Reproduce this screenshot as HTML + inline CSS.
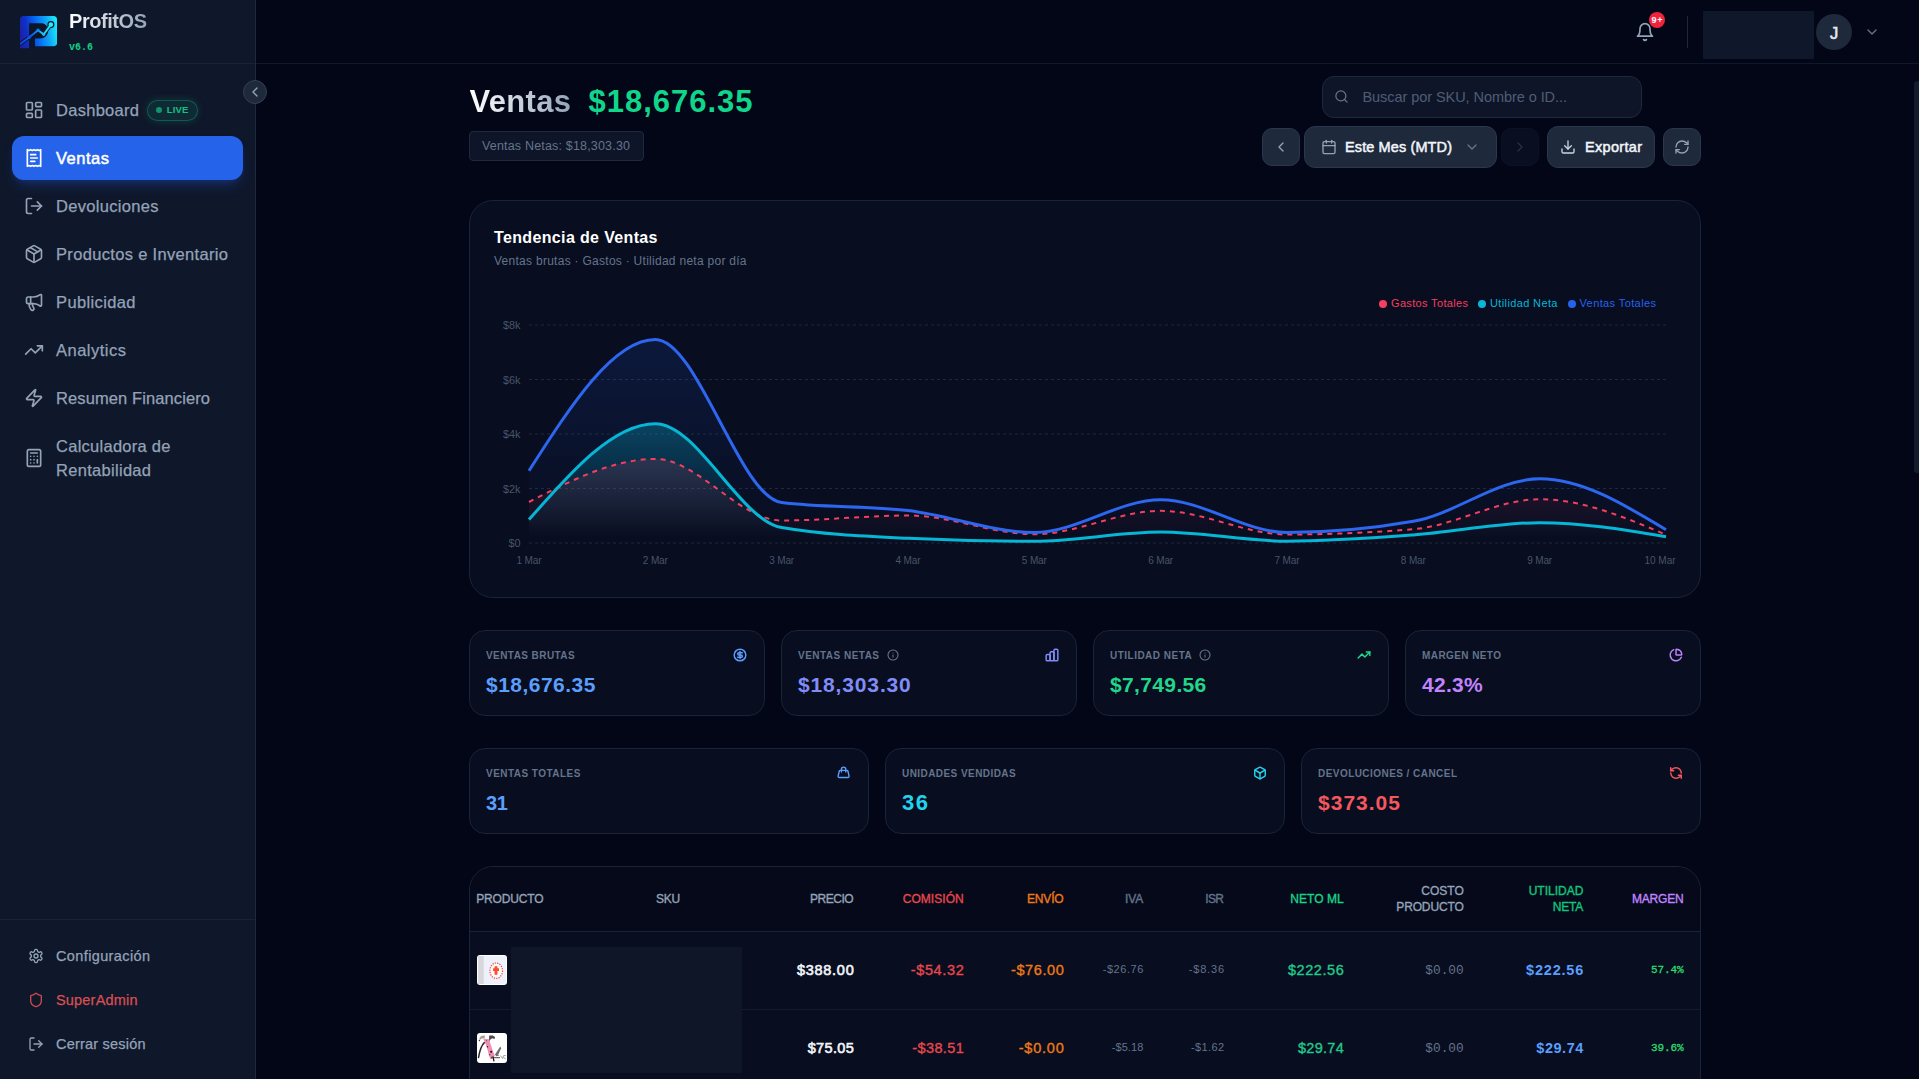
<!DOCTYPE html>
<html lang="es"><head><meta charset="utf-8"><title>ProfitOS · Ventas</title>
<style>
*{box-sizing:border-box;margin:0;padding:0}
html,body{width:1919px;height:1079px;overflow:hidden;background:#020617}
body{font-family:'Liberation Sans',sans-serif;-webkit-font-smoothing:antialiased}
#app{position:relative;width:1919px;height:1079px;overflow:hidden;background:#020617}
#app div,#app svg{position:absolute}
.t{white-space:nowrap}
.ic{overflow:visible}

</style></head>
<body>
<div id="app">
<aside aria-label="Navegación">
<div class="" style="left:0px;top:0px;width:256px;height:1079px;background:#0f172a;border-right:1px solid #1e293b"></div>
<div class="" style="left:0px;top:63px;width:255px;height:1px;background:#1e293b;opacity:.7"></div>
<div class="" style="left:0px;top:919px;width:255px;height:1px;background:#1e293b;opacity:.7"></div>
<svg class="ic" style="left:20px;top:15.700px" width="37.100" height="32.400" viewBox="0 0 37.100 32.400">
<defs><linearGradient id="lg" x1="0" y1="0.560" x2="1" y2="0.400"><stop offset="0" stop-color="#1c20a6"/><stop offset=".2" stop-color="#1030c6"/><stop offset=".45" stop-color="#0566f4"/><stop offset=".75" stop-color="#0ea6f6"/><stop offset="1" stop-color="#1ce8fb"/></linearGradient>
<linearGradient id="lg2" x1="0" y1="0" x2="1" y2="0"><stop offset="0" stop-color="#0a45ea"/><stop offset=".45" stop-color="#0668f8"/><stop offset=".7" stop-color="#10c2f8"/><stop offset="1" stop-color="#22f0ff"/></linearGradient>
<clipPath id="lc"><path d="M3.600 0H33.300a3.800 3.800 0 0 1 3.800 3.800V26.400a3.800 3.800 0 0 1-3.800 3.800H15V32.400H1.200A1.200 1.200 0 0 1 0 31.200V3.600A3.600 3.600 0 0 1 3.600 0Z"/></clipPath></defs>
<g clip-path="url(#lc)">
<rect width="37.100" height="32.400" fill="url(#lg)"/>
<path d="M9.050 33V7.300H20.500c4.600 0 7.600 2.700 7.600 7.300 0 4.800-3 7.800-7.600 7.800H14.970V33Z" fill="#0d1528"/>
<path d="M-1 28.800 9.300 21.200 18 14.300 23.700 18.400 30.900 8.600" fill="none" stroke="#0d1528" stroke-width="3.600" stroke-linejoin="round" stroke-linecap="round"/>
<circle cx="30.900" cy="8.600" r="3.500" fill="#0d1528"/>
<path d="M-1 28.800 9.300 21.200 18 14.300 23.700 18.400 30.900 8.600" fill="none" stroke="url(#lg2)" stroke-width="1.900" stroke-linejoin="round" stroke-linecap="round"/>
<circle cx="9.300" cy="21.200" r="1.700" fill="#0a52ee"/><circle cx="18" cy="14.300" r="1.700" fill="#0786f6"/><circle cx="23.700" cy="18.400" r="1.500" fill="#12c6f8"/>
<circle cx="30.900" cy="8.600" r="2.300" fill="#24eefe"/>
</g>
</svg>
<div class="t" style="top:7.00px;line-height:28px;height:28px;font:700 20px/28px 'Liberation Sans', sans-serif;color:#e5eaf2;letter-spacing:-0.446px;left:69px;background:linear-gradient(90deg,#ffffff,#94a3b8);-webkit-background-clip:text;background-clip:text;color:transparent;">ProfitOS</div>
<div class="t" style="top:41.20px;line-height:14px;height:14px;font:700 10px/14px 'Liberation Mono', monospace;color:#0fd183;letter-spacing:-0.005px;left:69px;">v6.6</div>
<div class="" style="left:243px;top:80px;width:24px;height:24px;background:#1e293b;border:1px solid #334155;border-radius:12px"></div>
<svg class="ic" style="left:246.5px;top:84.0px;" width="16" height="16" viewBox="0 0 24 24" fill="none" stroke="#94a3b8" stroke-width="2" stroke-linecap="round" stroke-linejoin="round"><path d="m15 18-6-6 6-6"/></svg>
<div class="" style="left:12px;top:136px;width:231px;height:44px;background:#2563eb;border-radius:12px;box-shadow:0 8px 14px -4px rgba(37,99,235,.32),0 3px 6px -2px rgba(30,64,175,.25)"></div>
<svg class="ic" style="left:24.0px;top:100.0px;" width="20" height="20" viewBox="0 0 24 24" fill="none" stroke="#94a3b8" stroke-width="2" stroke-linecap="round" stroke-linejoin="round"><rect width="7" height="9" x="3" y="3" rx="1"/><rect width="7" height="5" x="14" y="3" rx="1"/><rect width="7" height="9" x="14" y="12" rx="1"/><rect width="7" height="5" x="3" y="16" rx="1"/></svg>
<div class="t" style="top:98.50px;line-height:23px;height:23px;font:400 16.5px/23px 'Liberation Sans', sans-serif;color:#94a3b8;letter-spacing:0.283px;left:56px;-webkit-text-stroke:.25px currentColor;">Dashboard</div>
<svg class="ic" style="left:24.0px;top:148.0px;" width="20" height="20" viewBox="0 0 24 24" fill="none" stroke="#ffffff" stroke-width="2" stroke-linecap="round" stroke-linejoin="round"><path d="M4 2v20l2-1 2 1 2-1 2 1 2-1 2 1 2-1 2 1V2l-2 1-2-1-2 1-2-1-2 1-2-1-2 1Z"/><path d="M14 8H8"/><path d="M16 12H8"/><path d="M13 16H8"/></svg>
<div class="t" style="top:146.50px;line-height:23px;height:23px;font:400 16.5px/23px 'Liberation Sans', sans-serif;color:#ffffff;letter-spacing:0.506px;left:56px;-webkit-text-stroke:.5px currentColor;">Ventas</div>
<svg class="ic" style="left:24.0px;top:196.0px;" width="20" height="20" viewBox="0 0 24 24" fill="none" stroke="#94a3b8" stroke-width="2" stroke-linecap="round" stroke-linejoin="round"><path d="M9 21H5a2 2 0 0 1-2-2V5a2 2 0 0 1 2-2h4"/><polyline points="16 17 21 12 16 7"/><line x1="21" x2="9" y1="12" y2="12"/></svg>
<div class="t" style="top:194.50px;line-height:23px;height:23px;font:400 16.5px/23px 'Liberation Sans', sans-serif;color:#94a3b8;letter-spacing:0.312px;left:56px;-webkit-text-stroke:.25px currentColor;">Devoluciones</div>
<svg class="ic" style="left:24.0px;top:244.0px;" width="20" height="20" viewBox="0 0 24 24" fill="none" stroke="#94a3b8" stroke-width="2" stroke-linecap="round" stroke-linejoin="round"><path d="m7.5 4.27 9 5.15"/><path d="M21 8a2 2 0 0 0-1-1.73l-7-4a2 2 0 0 0-2 0l-7 4A2 2 0 0 0 3 8v8a2 2 0 0 0 1 1.73l7 4a2 2 0 0 0 2 0l7-4A2 2 0 0 0 21 16Z"/><path d="m3.3 7 8.7 5 8.7-5"/><path d="M12 22V12"/></svg>
<div class="t" style="top:242.50px;line-height:23px;height:23px;font:400 16.5px/23px 'Liberation Sans', sans-serif;color:#94a3b8;letter-spacing:0.328px;left:56px;-webkit-text-stroke:.25px currentColor;">Productos e Inventario</div>
<svg class="ic" style="left:24.0px;top:292.0px;" width="20" height="20" viewBox="0 0 24 24" fill="none" stroke="#94a3b8" stroke-width="2" stroke-linecap="round" stroke-linejoin="round"><path d="M11 6a13 13 0 0 0 8.400-2.800A1 1 0 0 1 21 4v12a1 1 0 0 1-1.600.800A13 13 0 0 0 11 14H5a2 2 0 0 1-2-2V8a2 2 0 0 1 2-2z"/><path d="M6 14a12 12 0 0 0 2.400 7.200 2 2 0 0 0 3.200-2.400A8 8 0 0 1 10 14"/><path d="M8 6v8"/></svg>
<div class="t" style="top:290.50px;line-height:23px;height:23px;font:400 16.5px/23px 'Liberation Sans', sans-serif;color:#94a3b8;letter-spacing:0.373px;left:56px;-webkit-text-stroke:.25px currentColor;">Publicidad</div>
<svg class="ic" style="left:24.0px;top:340.0px;" width="20" height="20" viewBox="0 0 24 24" fill="none" stroke="#94a3b8" stroke-width="2" stroke-linecap="round" stroke-linejoin="round"><polyline points="22 7 13.5 15.5 8.5 10.5 2 17"/><polyline points="16 7 22 7 22 13"/></svg>
<div class="t" style="top:338.50px;line-height:23px;height:23px;font:400 16.5px/23px 'Liberation Sans', sans-serif;color:#94a3b8;letter-spacing:0.496px;left:56px;-webkit-text-stroke:.25px currentColor;">Analytics</div>
<svg class="ic" style="left:24.0px;top:388.0px;" width="20" height="20" viewBox="0 0 24 24" fill="none" stroke="#94a3b8" stroke-width="2" stroke-linecap="round" stroke-linejoin="round"><path d="M4 14a1 1 0 0 1-.78-1.63l9.9-10.2a.5.5 0 0 1 .86.46l-1.92 6.02A1 1 0 0 0 13 10h7a1 1 0 0 1 .78 1.63l-9.9 10.2a.5.5 0 0 1-.86-.46l1.92-6.02A1 1 0 0 0 11 14z"/></svg>
<div class="t" style="top:386.50px;line-height:23px;height:23px;font:400 16.5px/23px 'Liberation Sans', sans-serif;color:#94a3b8;letter-spacing:0.103px;left:56px;-webkit-text-stroke:.25px currentColor;">Resumen Financiero</div>
<svg class="ic" style="left:24.0px;top:448.0px;" width="20" height="20" viewBox="0 0 24 24" fill="none" stroke="#94a3b8" stroke-width="2" stroke-linecap="round" stroke-linejoin="round"><rect width="16" height="20" x="4" y="2" rx="2"/><line x1="8" x2="16" y1="6" y2="6"/><line x1="16" x2="16" y1="14" y2="18"/><path d="M16 10h.01"/><path d="M12 10h.01"/><path d="M8 10h.01"/><path d="M12 14h.01"/><path d="M8 14h.01"/><path d="M12 18h.01"/><path d="M8 18h.01"/></svg>
<div class="t" style="top:434.50px;line-height:23px;height:23px;font:400 16.5px/23px 'Liberation Sans', sans-serif;color:#94a3b8;letter-spacing:0.269px;left:56px;-webkit-text-stroke:.25px currentColor;">Calculadora de</div>
<div class="t" style="top:458.50px;line-height:23px;height:23px;font:400 16.5px/23px 'Liberation Sans', sans-serif;color:#94a3b8;letter-spacing:0.297px;left:56px;-webkit-text-stroke:.25px currentColor;">Rentabilidad</div>
<div class="" style="left:147px;top:100px;width:51px;height:21px;background:rgba(16,185,129,.12);border:1px solid rgba(16,185,129,.35);border-radius:11px;box-shadow:0 0 8px rgba(16,185,129,.22)"></div>
<div class="" style="left:156px;top:107px;width:6px;height:6px;background:#10b981;border-radius:3px;opacity:.75"></div>
<div class="t" style="top:103.30px;line-height:13px;height:13px;font:700 9.5px/13px 'Liberation Sans', sans-serif;color:#10c283;letter-spacing:0.158px;left:166.7px;">LIVE</div>
<svg class="ic" style="left:28.0px;top:948.0px;" width="16" height="16" viewBox="0 0 24 24" fill="none" stroke="#94a3b8" stroke-width="2" stroke-linecap="round" stroke-linejoin="round"><path d="M12.22 2h-.44a2 2 0 0 0-2 2v.18a2 2 0 0 1-1 1.73l-.43.25a2 2 0 0 1-2 0l-.15-.08a2 2 0 0 0-2.73.73l-.22.38a2 2 0 0 0 .73 2.73l.15.1a2 2 0 0 1 1 1.72v.51a2 2 0 0 1-1 1.74l-.15.09a2 2 0 0 0-.73 2.73l.22.38a2 2 0 0 0 2.73.73l.15-.08a2 2 0 0 1 2 0l.43.25a2 2 0 0 1 1 1.73V20a2 2 0 0 0 2 2h.44a2 2 0 0 0 2-2v-.18a2 2 0 0 1 1-1.73l.43-.25a2 2 0 0 1 2 0l.15.08a2 2 0 0 0 2.73-.73l.22-.39a2 2 0 0 0-.73-2.73l-.15-.08a2 2 0 0 1-1-1.74v-.5a2 2 0 0 1 1-1.74l.15-.09a2 2 0 0 0 .73-2.73l-.22-.38a2 2 0 0 0-2.73-.73l-.15.08a2 2 0 0 1-2 0l-.43-.25a2 2 0 0 1-1-1.73V4a2 2 0 0 0-2-2z"/><circle cx="12" cy="12" r="3"/></svg>
<div class="t" style="top:946.00px;line-height:20px;height:20px;font:400 14.5px/20px 'Liberation Sans', sans-serif;color:#94a3b8;letter-spacing:0.376px;left:56px;-webkit-text-stroke:.25px currentColor;">Configuración</div>
<svg class="ic" style="left:28.0px;top:992.0px;" width="16" height="16" viewBox="0 0 24 24" fill="none" stroke="#cf4a4e" stroke-width="2" stroke-linecap="round" stroke-linejoin="round"><path d="M20 13c0 5-3.5 7.5-7.66 8.95a1 1 0 0 1-.67-.01C7.5 20.500 4 18 4 13V6a1 1 0 0 1 1-1c2 0 4.500-1.200 6.240-2.720a1.170 1.170 0 0 1 1.520 0C14.510 3.810 17 5 19 5a1 1 0 0 1 1 1z"/></svg>
<div class="t" style="top:990.00px;line-height:20px;height:20px;font:400 14.5px/20px 'Liberation Sans', sans-serif;color:#d84f54;letter-spacing:0.189px;left:56px;-webkit-text-stroke:.25px currentColor;">SuperAdmin</div>
<svg class="ic" style="left:28.0px;top:1036.0px;" width="16" height="16" viewBox="0 0 24 24" fill="none" stroke="#94a3b8" stroke-width="2" stroke-linecap="round" stroke-linejoin="round"><path d="M9 21H5a2 2 0 0 1-2-2V5a2 2 0 0 1 2-2h4"/><polyline points="16 17 21 12 16 7"/><line x1="21" x2="9" y1="12" y2="12"/></svg>
<div class="t" style="top:1034.00px;line-height:20px;height:20px;font:400 14.5px/20px 'Liberation Sans', sans-serif;color:#94a3b8;letter-spacing:0.206px;left:56px;-webkit-text-stroke:.25px currentColor;">Cerrar sesión</div>
</aside>
<header>
<div class="" style="left:256px;top:63px;width:1663px;height:1px;background:#1e293b;opacity:.55"></div>
<svg class="ic" style="left:1635.0px;top:22.0px;" width="20" height="20" viewBox="0 0 24 24" fill="none" stroke="#94a3b8" stroke-width="2" stroke-linecap="round" stroke-linejoin="round"><path d="M6 8a6 6 0 0 1 12 0c0 7 3 9 3 9H3s3-2 3-9"/><path d="M10.3 21a1.94 1.94 0 0 0 3.4 0"/></svg>
<div class="" style="left:1649px;top:12px;width:16px;height:16px;background:#ef233c;border-radius:8px"></div>
<div class="t" style="top:13.50px;line-height:13px;height:13px;font:700 9px/13px 'Liberation Sans', sans-serif;color:#ffffff;letter-spacing:0.734px;left:1651.50px;">9+</div>
<div class="" style="left:1687px;top:16px;width:1px;height:32px;background:#1e293b"></div>
<div class="" style="left:1703px;top:11px;width:111px;height:48px;background:#0f172a"></div>
<div class="" style="left:1816px;top:14px;width:36px;height:36px;background:#1e293b;border-radius:18px"></div>
<div class="t" style="top:21.80px;line-height:23px;height:23px;font:400 16.5px/23px 'Liberation Sans', sans-serif;color:#e2e8f0;left:1829.88px;-webkit-text-stroke:.6px currentColor;">J</div>
<svg class="ic" style="left:1864.0px;top:24.0px;" width="16" height="16" viewBox="0 0 24 24" fill="none" stroke="#64748b" stroke-width="2" stroke-linecap="round" stroke-linejoin="round"><path d="m6 9 6 6 6-6"/></svg>
<div class="" style="left:1914px;top:81px;width:6px;height:392px;background:#131b2e;border-radius:3px"></div>
</header>
<main>
<section aria-label="Encabezado">
<div class="t" style="top:79.80px;line-height:43px;height:43px;font:700 31px/43px 'Liberation Sans', sans-serif;color:#fff;letter-spacing:0.309px;left:469.5px;background:linear-gradient(90deg,#ffffff,#94a3b8);-webkit-background-clip:text;background-clip:text;color:transparent;">Ventas</div>
<div class="t" style="top:79.80px;line-height:43px;height:43px;font:700 31px/43px 'Liberation Sans', sans-serif;color:#10d68c;letter-spacing:0.983px;left:588.5px;">$18,676.35</div>
<div class="" style="left:469px;top:131px;width:175px;height:30px;background:#0e1528;border:1px solid #1e293b;border-radius:4px"></div>
<div class="t" style="top:137.00px;line-height:18px;height:18px;font:400 12.5px/18px 'Liberation Sans', sans-serif;color:#64748b;letter-spacing:0.179px;left:482px;">Ventas Netas: $18,303.30</div>
<div class="" style="left:1322px;top:76px;width:320px;height:42px;background:#0e1528;border:1px solid #1e293b;border-radius:12px"></div>
<svg class="ic" style="left:1334.0px;top:89.0px;" width="15" height="15" viewBox="0 0 24 24" fill="none" stroke="#64748b" stroke-width="2" stroke-linecap="round" stroke-linejoin="round"><circle cx="11" cy="11" r="8"/><path d="m21 21-4.3-4.3"/></svg>
<div class="t" style="top:87.00px;line-height:20px;height:20px;font:400 14.5px/20px 'Liberation Sans', sans-serif;color:#4e5d76;letter-spacing:-0.062px;left:1362.5px;">Buscar por SKU, Nombre o ID...</div>
<div class="" style="left:1262px;top:128px;width:38px;height:38px;background:#1e293b;border:1px solid #2a374d;border-radius:10px"></div>
<svg class="ic" style="left:1273.0px;top:139.0px;" width="16" height="16" viewBox="0 0 24 24" fill="none" stroke="#94a3b8" stroke-width="2" stroke-linecap="round" stroke-linejoin="round"><path d="m15 18-6-6 6-6"/></svg>
<div class="" style="left:1304px;top:126px;width:193px;height:42px;background:#1e293b;border:1px solid #2a374d;border-radius:11px"></div>
<svg class="ic" style="left:1321.0px;top:139.0px;" width="16" height="16" viewBox="0 0 24 24" fill="none" stroke="#94a3b8" stroke-width="2" stroke-linecap="round" stroke-linejoin="round"><path d="M8 2v4"/><path d="M16 2v4"/><rect width="18" height="18" x="3" y="4" rx="2"/><path d="M3 10h18"/></svg>
<div class="t" style="top:137.00px;line-height:20px;height:20px;font:400 14.5px/20px 'Liberation Sans', sans-serif;color:#f1f5f9;letter-spacing:0.113px;left:1345px;-webkit-text-stroke:.5px currentColor;">Este Mes (MTD)</div>
<svg class="ic" style="left:1464.0px;top:139.0px;" width="16" height="16" viewBox="0 0 24 24" fill="none" stroke="#64748b" stroke-width="2" stroke-linecap="round" stroke-linejoin="round"><path d="m6 9 6 6 6-6"/></svg>
<div class="" style="left:1501px;top:128px;width:38px;height:38px;background:#1e293b;border:1px solid #2a374d;border-radius:10px;opacity:.26"></div>
<svg class="ic" style="left:1512.0px;top:139.0px;opacity:.22" width="16" height="16" viewBox="0 0 24 24" fill="none" stroke="#94a3b8" stroke-width="2" stroke-linecap="round" stroke-linejoin="round"><path d="m9 18 6-6-6-6"/></svg>
<div class="" style="left:1547px;top:126px;width:108px;height:42px;background:#1e293b;border:1px solid #2a374d;border-radius:11px"></div>
<svg class="ic" style="left:1560.0px;top:139.0px;" width="16" height="16" viewBox="0 0 24 24" fill="none" stroke="#cbd5e1" stroke-width="2" stroke-linecap="round" stroke-linejoin="round"><path d="M21 15v4a2 2 0 0 1-2 2H5a2 2 0 0 1-2-2v-4"/><polyline points="7 10 12 15 17 10"/><line x1="12" x2="12" y1="15" y2="3"/></svg>
<div class="t" style="top:137.00px;line-height:20px;height:20px;font:400 14.5px/20px 'Liberation Sans', sans-serif;color:#f1f5f9;letter-spacing:0.312px;left:1585px;-webkit-text-stroke:.5px currentColor;">Exportar</div>
<div class="" style="left:1663px;top:128px;width:38px;height:38px;background:#1e293b;border:1px solid #2a374d;border-radius:10px"></div>
<svg class="ic" style="left:1674.0px;top:139.0px;" width="16" height="16" viewBox="0 0 24 24" fill="none" stroke="#94a3b8" stroke-width="2" stroke-linecap="round" stroke-linejoin="round"><path d="M3 12a9 9 0 0 1 9-9 9.750 9.750 0 0 1 6.740 2.740L21 8"/><path d="M21 3v5h-5"/><path d="M21 12a9 9 0 0 1-9 9 9.750 9.750 0 0 1-6.740-2.740L3 16"/><path d="M8 16H3v5"/></svg>
</section>
<section aria-label="Tendencia de Ventas">
<div class="" style="left:469px;top:200px;width:1232px;height:398px;background:#080d20;border:1px solid #1a2338;border-radius:24px"></div>
<div class="t" style="top:227.00px;line-height:22px;height:22px;font:700 16px/22px 'Liberation Sans', sans-serif;color:#ffffff;letter-spacing:0.356px;left:494px;">Tendencia de Ventas</div>
<div class="t" style="top:252.50px;line-height:17px;height:17px;font:400 12px/17px 'Liberation Sans', sans-serif;color:#64748b;letter-spacing:0.275px;left:494px;">Ventas brutas · Gastos · Utilidad neta por día</div>
<svg class="ic" style="left:0;top:0" width="1919" height="620" viewBox="0 0 1919 620"><defs>
<linearGradient id="gB" x1="0" y1="0" x2="0" y2="1"><stop offset="0.05" stop-color="#2563eb" stop-opacity=".13"/><stop offset=".95" stop-color="#2563eb" stop-opacity="0"/></linearGradient>
<linearGradient id="gC" x1="0" y1="0" x2="0" y2="1"><stop offset="0.05" stop-color="#06b6d4" stop-opacity=".28"/><stop offset=".95" stop-color="#06b6d4" stop-opacity="0"/></linearGradient>
<linearGradient id="gR" x1="0" y1="0" x2="0" y2="1"><stop offset="0.05" stop-color="#f43f5e" stop-opacity=".14"/><stop offset=".95" stop-color="#f43f5e" stop-opacity="0"/></linearGradient>
</defs><line x1="529.0" x2="1666.0" y1="543.0" y2="543.0" stroke="#1e293b" stroke-width="1" stroke-dasharray="3 3"/><line x1="529.0" x2="1666.0" y1="488.5" y2="488.5" stroke="#1e293b" stroke-width="1" stroke-dasharray="3 3"/><line x1="529.0" x2="1666.0" y1="434.0" y2="434.0" stroke="#1e293b" stroke-width="1" stroke-dasharray="3 3"/><line x1="529.0" x2="1666.0" y1="379.5" y2="379.5" stroke="#1e293b" stroke-width="1" stroke-dasharray="3 3"/><line x1="529.0" x2="1666.0" y1="325.0" y2="325.0" stroke="#1e293b" stroke-width="1" stroke-dasharray="3 3"/><path d="M529.00,470.70C571.11,405.05,613.22,339.40,655.33,339.40C697.44,339.40,739.56,497.17,781.67,502.50C823.78,507.83,865.89,505.50,908.00,510.50C950.11,515.50,992.22,532.50,1034.33,532.50C1076.44,532.50,1118.56,499.70,1160.67,499.70C1202.78,499.70,1244.89,532.50,1287.00,532.50C1329.11,532.50,1371.22,528.77,1413.33,521.30C1455.44,513.83,1497.56,478.80,1539.67,478.80C1581.78,478.80,1623.89,504.25,1666.00,529.70L1666.00,543.0L529.00,543.0Z" fill="url(#gB)"/><path d="M529.00,519.60C571.11,471.65,613.22,423.70,655.33,423.70C697.44,423.70,739.56,520.30,781.67,527.50C823.78,534.70,865.89,536.30,908.00,538.30C950.11,540.30,992.22,541.30,1034.33,541.30C1076.44,541.30,1118.56,532.00,1160.67,532.00C1202.78,532.00,1244.89,541.20,1287.00,541.20C1329.11,541.20,1371.22,538.08,1413.33,535.00C1455.44,531.92,1497.56,522.70,1539.67,522.70C1581.78,522.70,1623.89,529.70,1666.00,536.70L1666.00,543.0L529.00,543.0Z" fill="url(#gC)"/><path d="M529.00,502.00C571.11,480.45,613.22,458.90,655.33,458.90C697.44,458.90,739.56,520.50,781.67,520.50C823.78,520.50,865.89,515.50,908.00,515.50C950.11,515.50,992.22,534.20,1034.33,534.20C1076.44,534.20,1118.56,510.80,1160.67,510.80C1202.78,510.80,1244.89,534.50,1287.00,534.50C1329.11,534.50,1371.22,532.73,1413.33,529.20C1455.44,525.67,1497.56,499.20,1539.67,499.20C1581.78,499.20,1623.89,516.95,1666.00,534.70L1666.00,543.0L529.00,543.0Z" fill="url(#gR)"/><path d="M529.00,502.00C571.11,480.45,613.22,458.90,655.33,458.90C697.44,458.90,739.56,520.50,781.67,520.50C823.78,520.50,865.89,515.50,908.00,515.50C950.11,515.50,992.22,534.20,1034.33,534.20C1076.44,534.20,1118.56,510.80,1160.67,510.80C1202.78,510.80,1244.89,534.50,1287.00,534.50C1329.11,534.50,1371.22,532.73,1413.33,529.20C1455.44,525.67,1497.56,499.20,1539.67,499.20C1581.78,499.20,1623.89,516.95,1666.00,534.70" fill="none" stroke="#f43f5e" stroke-width="2" stroke-dasharray="5 5"/><path d="M529.00,519.60C571.11,471.65,613.22,423.70,655.33,423.70C697.44,423.70,739.56,520.30,781.67,527.50C823.78,534.70,865.89,536.30,908.00,538.30C950.11,540.30,992.22,541.30,1034.33,541.30C1076.44,541.30,1118.56,532.00,1160.67,532.00C1202.78,532.00,1244.89,541.20,1287.00,541.20C1329.11,541.20,1371.22,538.08,1413.33,535.00C1455.44,531.92,1497.56,522.70,1539.67,522.70C1581.78,522.70,1623.89,529.70,1666.00,536.70" fill="none" stroke="#06b6d4" stroke-width="3"/><path d="M529.00,470.70C571.11,405.05,613.22,339.40,655.33,339.40C697.44,339.40,739.56,497.17,781.67,502.50C823.78,507.83,865.89,505.50,908.00,510.50C950.11,515.50,992.22,532.50,1034.33,532.50C1076.44,532.50,1118.56,499.70,1160.67,499.70C1202.78,499.70,1244.89,532.50,1287.00,532.50C1329.11,532.50,1371.22,528.77,1413.33,521.30C1455.44,513.83,1497.56,478.80,1539.67,478.80C1581.78,478.80,1623.89,504.25,1666.00,529.70" fill="none" stroke="#2d66ef" stroke-width="3"/></svg>
<div class="t" style="top:536.30px;line-height:15px;height:15px;font:400 10.8px/15px 'Liberation Sans', sans-serif;color:#475569;right:1398.50px;text-align:right;">$0</div>
<div class="t" style="top:481.80px;line-height:15px;height:15px;font:400 10.8px/15px 'Liberation Sans', sans-serif;color:#475569;right:1398.50px;text-align:right;">$2k</div>
<div class="t" style="top:427.30px;line-height:15px;height:15px;font:400 10.8px/15px 'Liberation Sans', sans-serif;color:#475569;right:1398.50px;text-align:right;">$4k</div>
<div class="t" style="top:372.80px;line-height:15px;height:15px;font:400 10.8px/15px 'Liberation Sans', sans-serif;color:#475569;right:1398.50px;text-align:right;">$6k</div>
<div class="t" style="top:318.30px;line-height:15px;height:15px;font:400 10.8px/15px 'Liberation Sans', sans-serif;color:#475569;right:1398.50px;text-align:right;">$8k</div>
<div class="t" style="top:553.50px;line-height:14px;height:14px;font:400 10px/14px 'Liberation Sans', sans-serif;color:#475569;letter-spacing:-0.141px;left:516.50px;">1 Mar</div>
<div class="t" style="top:553.50px;line-height:14px;height:14px;font:400 10px/14px 'Liberation Sans', sans-serif;color:#475569;letter-spacing:-0.141px;left:642.83px;">2 Mar</div>
<div class="t" style="top:553.50px;line-height:14px;height:14px;font:400 10px/14px 'Liberation Sans', sans-serif;color:#475569;letter-spacing:-0.141px;left:769.17px;">3 Mar</div>
<div class="t" style="top:553.50px;line-height:14px;height:14px;font:400 10px/14px 'Liberation Sans', sans-serif;color:#475569;letter-spacing:-0.141px;left:895.50px;">4 Mar</div>
<div class="t" style="top:553.50px;line-height:14px;height:14px;font:400 10px/14px 'Liberation Sans', sans-serif;color:#475569;letter-spacing:-0.141px;left:1021.83px;">5 Mar</div>
<div class="t" style="top:553.50px;line-height:14px;height:14px;font:400 10px/14px 'Liberation Sans', sans-serif;color:#475569;letter-spacing:-0.141px;left:1148.17px;">6 Mar</div>
<div class="t" style="top:553.50px;line-height:14px;height:14px;font:400 10px/14px 'Liberation Sans', sans-serif;color:#475569;letter-spacing:-0.141px;left:1274.50px;">7 Mar</div>
<div class="t" style="top:553.50px;line-height:14px;height:14px;font:400 10px/14px 'Liberation Sans', sans-serif;color:#475569;letter-spacing:-0.141px;left:1400.83px;">8 Mar</div>
<div class="t" style="top:553.50px;line-height:14px;height:14px;font:400 10px/14px 'Liberation Sans', sans-serif;color:#475569;letter-spacing:-0.141px;left:1527.17px;">9 Mar</div>
<div class="t" style="top:553.50px;line-height:14px;height:14px;font:400 10px/14px 'Liberation Sans', sans-serif;color:#475569;letter-spacing:-0.025px;right:243.53px;text-align:right;">10 Mar</div>
<div class="" style="left:1379px;top:300px;width:8px;height:8px;background:#f43f5e;border-radius:4px"></div>
<div class="t" style="top:296.00px;line-height:15px;height:15px;font:400 11px/15px 'Liberation Sans', sans-serif;color:#f43f5e;letter-spacing:0.341px;left:1391px;">Gastos Totales</div>
<div class="" style="left:1478px;top:300px;width:8px;height:8px;background:#06b6d4;border-radius:4px"></div>
<div class="t" style="top:296.00px;line-height:15px;height:15px;font:400 11px/15px 'Liberation Sans', sans-serif;color:#06b6d4;letter-spacing:0.376px;left:1490px;">Utilidad Neta</div>
<div class="" style="left:1567.5px;top:300px;width:8px;height:8px;background:#2563eb;border-radius:4px"></div>
<div class="t" style="top:296.00px;line-height:15px;height:15px;font:400 11px/15px 'Liberation Sans', sans-serif;color:#2563eb;letter-spacing:0.395px;left:1579.5px;">Ventas Totales</div>
</section>
<section aria-label="Indicadores">
<div class="" style="left:468.5px;top:630px;width:296px;height:86px;background:#080d20;border:1px solid #1a2338;border-radius:16px"></div>
<div class="t" style="top:649.30px;line-height:14px;height:14px;font:700 10px/14px 'Liberation Sans', sans-serif;color:#64748b;letter-spacing:0.431px;left:486.0px;">VENTAS BRUTAS</div>
<div class="t" style="top:669.90px;line-height:29px;height:29px;font:700 21px/29px 'Liberation Sans', sans-serif;color:#5b9efc;letter-spacing:0.477px;left:486.0px;">$18,676.35</div>
<svg class="ic" style="left:733.0px;top:648.0px;" width="14" height="14" viewBox="0 0 24 24" fill="none" stroke="#5b9efc" stroke-width="2.5" stroke-linecap="round" stroke-linejoin="round"><circle cx="12" cy="12" r="10"/><path d="M16 8h-6a2 2 0 1 0 0 4h4a2 2 0 1 1 0 4H8"/><path d="M12 18V6"/></svg>
<div class="" style="left:780.5px;top:630px;width:296px;height:86px;background:#080d20;border:1px solid #1a2338;border-radius:16px"></div>
<div class="t" style="top:649.30px;line-height:14px;height:14px;font:700 10px/14px 'Liberation Sans', sans-serif;color:#64748b;letter-spacing:0.477px;left:798.0px;">VENTAS NETAS</div>
<div class="t" style="top:669.90px;line-height:29px;height:29px;font:700 21px/29px 'Liberation Sans', sans-serif;color:#818cf8;letter-spacing:0.855px;left:798.0px;">$18,303.30</div>
<svg class="ic" style="left:1045.0px;top:648.0px;" width="14" height="14" viewBox="0 0 24 24" fill="none" stroke="#818cf8" stroke-width="2.5" stroke-linecap="round" stroke-linejoin="round"><rect x="2" y="11" width="6.670" height="11" rx="2"/><rect x="8.670" y="6.500" width="6.670" height="15.500" rx="2"/><rect x="15.330" y="2" width="6.670" height="20" rx="2"/></svg>
<svg class="ic" style="left:887.0px;top:649.0px;" width="12" height="12" viewBox="0 0 24 24" fill="none" stroke="#64748b" stroke-width="2.2" stroke-linecap="round" stroke-linejoin="round"><circle cx="12" cy="12" r="10"/><path d="M12 16v-4"/><path d="M12 8h.01"/></svg>
<div class="" style="left:1092.5px;top:630px;width:296px;height:86px;background:#080d20;border:1px solid #1a2338;border-radius:16px"></div>
<div class="t" style="top:649.30px;line-height:14px;height:14px;font:700 10px/14px 'Liberation Sans', sans-serif;color:#64748b;letter-spacing:0.482px;left:1110.0px;">UTILIDAD NETA</div>
<div class="t" style="top:669.90px;line-height:29px;height:29px;font:700 21px/29px 'Liberation Sans', sans-serif;color:#22d68c;letter-spacing:0.358px;left:1110.0px;">$7,749.56</div>
<svg class="ic" style="left:1357.0px;top:648.0px;" width="14" height="14" viewBox="0 0 24 24" fill="none" stroke="#22d68c" stroke-width="2.5" stroke-linecap="round" stroke-linejoin="round"><polyline points="22 7 13.5 15.5 8.5 10.5 2 17"/><polyline points="16 7 22 7 22 13"/></svg>
<svg class="ic" style="left:1199.0px;top:649.0px;" width="12" height="12" viewBox="0 0 24 24" fill="none" stroke="#64748b" stroke-width="2.2" stroke-linecap="round" stroke-linejoin="round"><circle cx="12" cy="12" r="10"/><path d="M12 16v-4"/><path d="M12 8h.01"/></svg>
<div class="" style="left:1404.5px;top:630px;width:296px;height:86px;background:#080d20;border:1px solid #1a2338;border-radius:16px"></div>
<div class="t" style="top:649.30px;line-height:14px;height:14px;font:700 10px/14px 'Liberation Sans', sans-serif;color:#64748b;letter-spacing:0.417px;left:1422.0px;">MARGEN NETO</div>
<div class="t" style="top:669.90px;line-height:29px;height:29px;font:700 21px/29px 'Liberation Sans', sans-serif;color:#c084fc;letter-spacing:0.288px;left:1422.0px;">42.3%</div>
<svg class="ic" style="left:1669.0px;top:648.0px;" width="14" height="14" viewBox="0 0 24 24" fill="none" stroke="#c084fc" stroke-width="2.5" stroke-linecap="round" stroke-linejoin="round"><path d="M21 12c.552 0 1.005-.449.950-.998a10 10 0 0 0-8.953-8.951c-.550-.055-.998.398-.998.950v8a1 1 0 0 0 1 1z"/><path d="M21.210 15.890A10 10 0 1 1 8 2.830"/></svg>
<div class="" style="left:468.5px;top:748px;width:400px;height:86px;background:#080d20;border:1px solid #1a2338;border-radius:16px"></div>
<div class="t" style="top:767.30px;line-height:14px;height:14px;font:700 10px/14px 'Liberation Sans', sans-serif;color:#64748b;letter-spacing:0.466px;left:486.0px;">VENTAS TOTALES</div>
<div class="t" style="top:788.70px;line-height:28px;height:28px;font:700 20px/28px 'Liberation Sans', sans-serif;color:#5b9efc;letter-spacing:-0.250px;left:486.0px;">31</div>
<svg class="ic" style="left:837.4px;top:766.4px;" width="13.2" height="13.2" viewBox="0 0 24 24" fill="none" stroke="#5b9efc" stroke-width="2.5" stroke-linecap="round" stroke-linejoin="round"><path d="M2.048 18.566A2 2 0 0 0 4 21h16a2 2 0 0 0 1.952-2.434l-2-9A2 2 0 0 0 18 8H6a2 2 0 0 0-1.952 1.566z"/><path d="M8 11V6a4 4 0 0 1 8 0v5"/></svg>
<div class="" style="left:884.5px;top:748px;width:400px;height:86px;background:#080d20;border:1px solid #1a2338;border-radius:16px"></div>
<div class="t" style="top:767.30px;line-height:14px;height:14px;font:700 10px/14px 'Liberation Sans', sans-serif;color:#64748b;letter-spacing:0.438px;left:902.0px;">UNIDADES VENDIDAS</div>
<div class="t" style="top:787.20px;line-height:31px;height:31px;font:700 22px/31px 'Liberation Sans', sans-serif;color:#22d3ee;letter-spacing:1.516px;left:902.0px;">36</div>
<svg class="ic" style="left:1253.0px;top:766.0px;" width="14" height="14" viewBox="0 0 24 24" fill="none" stroke="#22d3ee" stroke-width="2.5" stroke-linecap="round" stroke-linejoin="round"><path d="M21 8a2 2 0 0 0-1-1.730l-7-4a2 2 0 0 0-2 0l-7 4A2 2 0 0 0 3 8v8a2 2 0 0 0 1 1.730l7 4a2 2 0 0 0 2 0l7-4A2 2 0 0 0 21 16Z"/><path d="m3.300 7 8.700 5 8.700-5"/><path d="M12 22V12"/></svg>
<div class="" style="left:1300.5px;top:748px;width:400px;height:86px;background:#080d20;border:1px solid #1a2338;border-radius:16px"></div>
<div class="t" style="top:767.30px;line-height:14px;height:14px;font:700 10px/14px 'Liberation Sans', sans-serif;color:#64748b;letter-spacing:0.449px;left:1318.0px;">DEVOLUCIONES / CANCEL</div>
<div class="t" style="top:788.20px;line-height:29px;height:29px;font:700 21px/29px 'Liberation Sans', sans-serif;color:#f4585c;letter-spacing:1.013px;left:1318.0px;">$373.05</div>
<svg class="ic" style="left:1669.0px;top:766.0px;" width="14" height="14" viewBox="0 0 24 24" fill="none" stroke="#f4585c" stroke-width="2.5" stroke-linecap="round" stroke-linejoin="round"><path d="M21 12a9 9 0 0 0-9-9 9.750 9.750 0 0 0-6.740 2.740L3 8"/><path d="M3 3v5h5"/><path d="M3 12a9 9 0 0 0 9 9 9.750 9.750 0 0 0 6.740-2.740L21 16"/><path d="M16 16h5v5"/></svg>
</section>
<section aria-label="Tabla de ventas">
<div class="" style="left:468.5px;top:866px;width:1232px;height:260px;background:#080d20;border:1px solid #1a2338;border-radius:24px;overflow:hidden"><div style="left:0;top:0;width:1232px;height:65px;background:#050919;border-bottom:1px solid #1a2338"></div><div style="left:0;top:142px;width:1232px;height:1px;background:#131b2e"></div></div>
<div class="t" style="top:890.90px;line-height:17px;height:17px;font:400 12px/17px 'Liberation Sans', sans-serif;color:#94a3b8;letter-spacing:-0.179px;left:476.3px;-webkit-text-stroke:.35px currentColor;">PRODUCTO</div>
<div class="t" style="top:890.90px;line-height:17px;height:17px;font:400 12px/17px 'Liberation Sans', sans-serif;color:#94a3b8;letter-spacing:-0.194px;left:656px;-webkit-text-stroke:.35px currentColor;">SKU</div>
<div class="t" style="top:890.90px;line-height:17px;height:17px;font:400 12px/17px 'Liberation Sans', sans-serif;color:#94a3b8;letter-spacing:-0.463px;right:1065.76px;text-align:right;-webkit-text-stroke:.35px currentColor;">PRECIO</div>
<div class="t" style="top:890.90px;line-height:17px;height:17px;font:400 12px/17px 'Liberation Sans', sans-serif;color:#e5484d;letter-spacing:0.047px;right:955.25px;text-align:right;-webkit-text-stroke:.35px currentColor;">COMISIÓN</div>
<div class="t" style="top:890.90px;line-height:17px;height:17px;font:400 12px/17px 'Liberation Sans', sans-serif;color:#ee7a17;letter-spacing:-0.161px;right:855.46px;text-align:right;-webkit-text-stroke:.35px currentColor;">ENVÍO</div>
<div class="t" style="top:890.90px;line-height:17px;height:17px;font:400 12px/17px 'Liberation Sans', sans-serif;color:#64748b;letter-spacing:-0.077px;right:775.78px;text-align:right;-webkit-text-stroke:.35px currentColor;">IVA</div>
<div class="t" style="top:890.90px;line-height:17px;height:17px;font:400 12px/17px 'Liberation Sans', sans-serif;color:#64748b;letter-spacing:-0.658px;right:695.66px;text-align:right;-webkit-text-stroke:.35px currentColor;">ISR</div>
<div class="t" style="top:890.90px;line-height:17px;height:17px;font:400 12px/17px 'Liberation Sans', sans-serif;color:#18d48a;letter-spacing:0.046px;right:575.25px;text-align:right;-webkit-text-stroke:.35px currentColor;">NETO ML</div>
<div class="t" style="top:883.00px;line-height:17px;height:17px;font:400 12px/17px 'Liberation Sans', sans-serif;color:#94a3b8;letter-spacing:-0.013px;right:455.31px;text-align:right;-webkit-text-stroke:.35px currentColor;">COSTO</div>
<div class="t" style="top:899.00px;line-height:17px;height:17px;font:400 12px/17px 'Liberation Sans', sans-serif;color:#94a3b8;letter-spacing:-0.150px;right:455.45px;text-align:right;-webkit-text-stroke:.35px currentColor;">PRODUCTO</div>
<div class="t" style="top:883.00px;line-height:17px;height:17px;font:400 12px/17px 'Liberation Sans', sans-serif;color:#12c47e;letter-spacing:-0.012px;right:335.71px;text-align:right;-webkit-text-stroke:.35px currentColor;">UTILIDAD</div>
<div class="t" style="top:899.00px;line-height:17px;height:17px;font:400 12px/17px 'Liberation Sans', sans-serif;color:#12c47e;letter-spacing:-0.175px;right:335.88px;text-align:right;-webkit-text-stroke:.35px currentColor;">NETA</div>
<div class="t" style="top:890.90px;line-height:17px;height:17px;font:400 12px/17px 'Liberation Sans', sans-serif;color:#c084fc;letter-spacing:-0.194px;right:235.49px;text-align:right;-webkit-text-stroke:.35px currentColor;">MARGEN</div>
<div class="" style="left:511px;top:947.3px;width:231px;height:126px;background:#0e1628"></div>
<div class="t" style="top:960.00px;line-height:20px;height:20px;font:400 14.5px/20px 'Liberation Sans', sans-serif;color:#f1f5f9;letter-spacing:0.713px;right:1064.59px;text-align:right;-webkit-text-stroke:.6px currentColor;">$388.00</div>
<div class="t" style="top:960.00px;line-height:20px;height:20px;font:400 14.5px/20px 'Liberation Sans', sans-serif;color:#e5484d;letter-spacing:0.635px;right:954.66px;text-align:right;-webkit-text-stroke:.35px currentColor;">-$54.32</div>
<div class="t" style="top:960.00px;line-height:20px;height:20px;font:400 14.5px/20px 'Liberation Sans', sans-serif;color:#ee7a17;letter-spacing:0.585px;right:854.71px;text-align:right;-webkit-text-stroke:.35px currentColor;">-$76.00</div>
<div class="t" style="top:961.50px;line-height:15px;height:15px;font:400 11px/15px 'Liberation Sans', sans-serif;color:#64748b;letter-spacing:0.548px;right:775.15px;text-align:right;">-$26.76</div>
<div class="t" style="top:961.50px;line-height:15px;height:15px;font:400 11px/15px 'Liberation Sans', sans-serif;color:#64748b;letter-spacing:0.819px;right:694.18px;text-align:right;">-$8.36</div>
<div class="t" style="top:960.00px;line-height:20px;height:20px;font:400 14.5px/20px 'Liberation Sans', sans-serif;color:#22c98a;letter-spacing:0.546px;right:574.75px;text-align:right;-webkit-text-stroke:.35px currentColor;">$222.56</div>
<div class="t" style="top:961.70px;line-height:18px;height:18px;font:400 12.8px/18px 'Liberation Mono', monospace;color:#64748b;right:455.30px;text-align:right;">$0.00</div>
<div class="t" style="top:960.00px;line-height:20px;height:20px;font:700 14.5px/20px 'Liberation Sans', sans-serif;color:#5b9efc;letter-spacing:0.813px;right:334.89px;text-align:right;">$222.56</div>
<div class="t" style="top:963.00px;line-height:15px;height:15px;font:400 11px/15px 'Liberation Mono', monospace;color:#2bdc6e;letter-spacing:-0.079px;right:235.38px;text-align:right;-webkit-text-stroke:.3px currentColor;">57.4%</div>
<div class="t" style="top:1038.00px;line-height:20px;height:20px;font:400 14.5px/20px 'Liberation Sans', sans-serif;color:#f1f5f9;letter-spacing:0.328px;right:1064.97px;text-align:right;-webkit-text-stroke:.6px currentColor;">$75.05</div>
<div class="t" style="top:1038.00px;line-height:20px;height:20px;font:400 14.5px/20px 'Liberation Sans', sans-serif;color:#e5484d;letter-spacing:0.369px;right:954.93px;text-align:right;-webkit-text-stroke:.35px currentColor;">-$38.51</div>
<div class="t" style="top:1038.00px;line-height:20px;height:20px;font:400 14.5px/20px 'Liberation Sans', sans-serif;color:#ee7a17;letter-spacing:0.775px;right:854.52px;text-align:right;-webkit-text-stroke:.35px currentColor;">-$0.00</div>
<div class="t" style="top:1039.50px;line-height:15px;height:15px;font:400 11px/15px 'Liberation Sans', sans-serif;color:#64748b;letter-spacing:0.079px;right:775.62px;text-align:right;">-$5.18</div>
<div class="t" style="top:1039.50px;line-height:15px;height:15px;font:400 11px/15px 'Liberation Sans', sans-serif;color:#64748b;letter-spacing:0.359px;right:694.64px;text-align:right;">-$1.62</div>
<div class="t" style="top:1038.00px;line-height:20px;height:20px;font:400 14.5px/20px 'Liberation Sans', sans-serif;color:#22c98a;letter-spacing:0.268px;right:575.03px;text-align:right;-webkit-text-stroke:.35px currentColor;">$29.74</div>
<div class="t" style="top:1039.70px;line-height:18px;height:18px;font:400 12.8px/18px 'Liberation Mono', monospace;color:#64748b;right:455.30px;text-align:right;">$0.00</div>
<div class="t" style="top:1038.00px;line-height:20px;height:20px;font:700 14.5px/20px 'Liberation Sans', sans-serif;color:#5b9efc;letter-spacing:0.528px;right:335.17px;text-align:right;">$29.74</div>
<div class="t" style="top:1041.00px;line-height:15px;height:15px;font:400 11px/15px 'Liberation Mono', monospace;color:#2bdc6e;letter-spacing:-0.079px;right:235.38px;text-align:right;-webkit-text-stroke:.3px currentColor;">39.6%</div>
<svg class="ic" style="left:477px;top:955px" width="30" height="30" viewBox="0 0 30 30">
<rect width="30" height="30" rx="3" fill="#ffffff"/>
<rect x="1" y="1" width="28" height="28" rx="2" fill="#eef0fb"/>
<rect x="1.200" y="1" width="5.500" height="28" fill="#d7d7dc"/>
<ellipse cx="19.200" cy="15.700" rx="6.300" ry="7.700" fill="#fbfbff" stroke="#f04a2c" stroke-width="1.200" stroke-dasharray="1.300 1.100"/>
<path d="M19 11.200v8.600M16.100 14.700h5.900" stroke="#ff4a28" stroke-width="2.800"/></svg>
<svg class="ic" style="left:477px;top:1033px" width="30" height="30" viewBox="0 0 30 30">
<rect width="30" height="30" rx="3" fill="#ffffff"/>
<path d="M7.300 9.600C4.300 12.500 2.600 18 1.500 24.600" fill="none" stroke="#2b2b2b" stroke-width="1.500" stroke-linecap="round"/>
<path d="M2.400 5.300c1-2.400 3.600-3 5.400-2.800v2.600l-3.800.6-1.400 2z" fill="#a9a08c"/>
<path d="M12.200 2.400l3.600.2 2.200 1.300-.4 2.200-2.400-.8-1.800 1.200-1.400 2.600z" fill="#4a4a4a"/>
<circle cx="2.400" cy="7.600" r=".7" fill="#222"/>
<path d="M6 5.400l6 .8 2.200 6.800 2 6 1.600 3.500-1.600 2.500-2.500 1.500-1.800-4-1.300-5.500-2-6z" fill="#f28db2"/>
<circle cx="9.500" cy="7.700" r=".6" fill="#3d6b5a"/><circle cx="10.500" cy="13.700" r=".7" fill="#1d1d1d"/><circle cx="14.200" cy="18.800" r="1.100" fill="#2a1a22"/><circle cx="12.700" cy="21.700" r=".6" fill="#3a1a26"/><circle cx="14.700" cy="24.600" r=".8" fill="#444"/>
<path d="M18 21.600l5.200-8.200 1 1.800-3 6.600 1 .8-3 .6z" fill="#6f6f6f"/>
<path d="M16.600 24.700h6.400" stroke="#333" stroke-width=".9"/>
<path d="M16 24l.9 3.800" stroke="#1a1a1a" stroke-width="1.300" stroke-linecap="round"/>
<path d="M23.400 22.600l2.200 3 1-3h2.300M26.600 24.600l2.200 1.300" fill="none" stroke="#8a8a8a" stroke-width=".8"/></svg>
</section>
</main>
</div>
</body></html>
